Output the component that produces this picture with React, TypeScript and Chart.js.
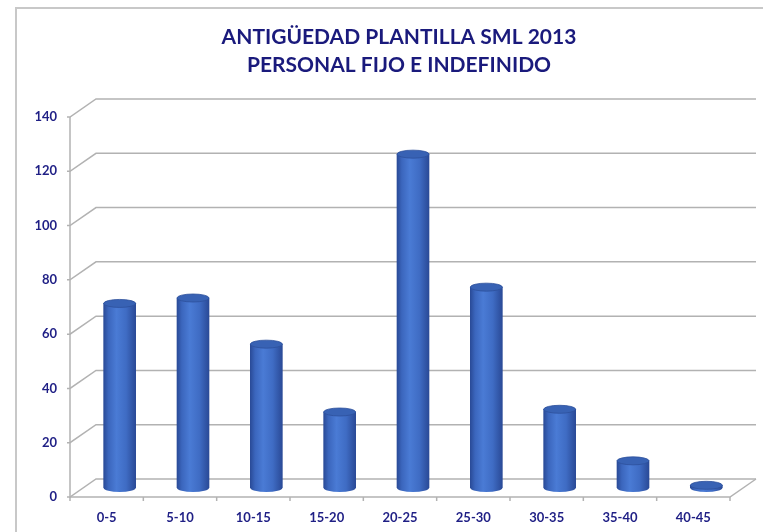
import { useEffect, useRef } from "react";
import { Chart, registerables } from "chart.js";

Chart.register(...registerables);

const categories = ["0-5", "5-10", "10-15", "15-20", "20-25", "25-30", "30-35", "35-40", "40-45"];
const values = [68, 70, 53, 28, 123, 74, 29, 10, 1];
const yTicks = [0, 20, 40, 60, 80, 100, 120, 140];
const titleLines = ["ANTIGÜEDAD PLANTILLA SML 2013", "PERSONAL FIJO E INDEFINIDO"];

const DX = 13; // half depth offset (x)
const DY = 9; // half depth offset (y)
const BAR_W = 32;
const RY = 4;
const NAVY = "#1f1f85";
const TITLE_NAVY = "#1a1a7c";
const GRID = "#b2b2b2";
const FONT = "Lato";

function bodyGradient(ctx: CanvasRenderingContext2D, cx: number, w: number) {
  const g = ctx.createLinearGradient(cx - w / 2, 0, cx + w / 2, 0);
  g.addColorStop(0, "#2a4b98");
  g.addColorStop(0.15, "#3b66bd");
  g.addColorStop(0.4, "#4a7bd5");
  g.addColorStop(0.7, "#3f6cc4");
  g.addColorStop(1, "#2a4a97");
  return g;
}

const frame3d = {
  id: "frame3d",
  beforeDraw(chart: any) {
    const ctx = chart.ctx;
    ctx.save();
    ctx.fillStyle = "#ffffff";
    ctx.fillRect(0, 0, chart.width, chart.height);
    ctx.strokeStyle = "#c8c8c8";
    ctx.lineWidth = 2;
    ctx.beginPath();
    ctx.moveTo(16, chart.height);
    ctx.lineTo(16, 8);
    ctx.lineTo(chart.width, 8);
    ctx.stroke();
    // title
    ctx.fillStyle = TITLE_NAVY;
    ctx.font = `bold 21px ${FONT}`;
    ctx.textAlign = "center";
    ctx.textBaseline = "middle";
    ctx.fillText(titleLines[0], 399, 37);
    ctx.fillText(titleLines[1], 399, 65);
    ctx.restore();
  },
  beforeDatasetsDraw(chart: any) {
    const { ctx, chartArea: a } = chart;
    const y = chart.scales.y;
    const fl = a.left - DX;
    const fr = a.right - DX;
    const bl = a.left + DX;
    const br = a.right + DX;
    ctx.save();
    ctx.strokeStyle = GRID;
    ctx.lineWidth = 1.5;
    for (const v of yTicks) {
      const ym = y.getPixelForValue(v);
      ctx.beginPath();
      ctx.moveTo(fl - 3, ym + DY);
      ctx.lineTo(fl, ym + DY);
      ctx.lineTo(bl, ym - DY);
      ctx.lineTo(br, ym - DY);
      ctx.stroke();
    }
    const y0 = y.getPixelForValue(0);
    const yTop = y.getPixelForValue(yTicks[yTicks.length - 1]);
    ctx.beginPath();
    ctx.moveTo(fl, yTop + DY);
    ctx.lineTo(fl, y0 + DY);
    ctx.lineTo(fr, y0 + DY);
    ctx.lineTo(br, y0 - DY);
    ctx.stroke();
    const n = categories.length;
    for (let i = 0; i <= n; i++) {
      const xm = a.left + ((a.right - a.left) * i) / n - DX;
      ctx.beginPath();
      ctx.moveTo(xm, y0 + DY);
      ctx.lineTo(xm, y0 + DY + 4);
      ctx.stroke();
    }
    ctx.restore();
  },
  afterDatasetsDraw(chart: any) {
    const ctx = chart.ctx;
    const meta = chart.getDatasetMeta(0);
    ctx.save();
    for (const el of meta.data) {
      const { x, y, base, width } = el.getProps(["x", "y", "base", "width"], true);
      const rx = width / 2;
      ctx.beginPath();
      ctx.ellipse(x, base, rx, RY, 0, 0, Math.PI);
      ctx.closePath();
      ctx.fillStyle = bodyGradient(ctx, x, width);
      ctx.fill();
      ctx.beginPath();
      ctx.ellipse(x, y, rx, RY, 0, 0, Math.PI * 2);
      ctx.fillStyle = "#3862b4";
      ctx.fill();
      ctx.strokeStyle = "#2d519c";
      ctx.lineWidth = 0.8;
      ctx.stroke();
    }
    ctx.restore();
  },
};

export default function App() {
  const ref = useRef<HTMLCanvasElement | null>(null);
  useEffect(() => {
    if (!ref.current) return;
    const chart = new Chart(ref.current, {
      type: "bar",
      data: {
        labels: categories,
        datasets: [
          {
            data: values,
            barThickness: BAR_W,
            borderWidth: 0,
            backgroundColor: (c: any) => {
              const ch = c.chart;
              if (!ch.chartArea || c.dataIndex === undefined) return "#4472c4";
              const cx = ch.scales.x.getPixelForValue(c.dataIndex);
              return bodyGradient(ch.ctx, cx, BAR_W);
            },
          },
        ],
      },
      options: {
        responsive: false,
        animation: false,
        devicePixelRatio: 1,
        layout: { padding: { left: 0, right: 20, top: 108, bottom: 0 } },
        plugins: {
          legend: { display: false },
          tooltip: { enabled: false },
          title: { display: false },
        },
        scales: {
          x: {
            grid: { display: false, drawTicks: false },
            border: { display: false },
            ticks: {
              color: NAVY,
              font: { family: FONT, size: 13, weight: "bold" },
              labelOffset: -DX,
              padding: 22,
              maxRotation: 0,
              autoSkip: false,
            },
            afterFit: (s: any) => {
              s.height = 44;
            },
          },
          y: {
            min: 0,
            max: 140,
            grid: { display: false, drawTicks: false },
            border: { display: false },
            ticks: {
              stepSize: 20,
              color: NAVY,
              font: { family: FONT, size: 13, weight: "bold" },
              labelOffset: DY,
              padding: 26,
            },
            afterFit: (s: any) => {
              s.width = 83;
            },
          },
        },
      },
      plugins: [frame3d],
    } as any);
    return () => chart.destroy();
  }, []);
  return (
    <div style={{ position: "absolute", left: 0, top: 0, width: 763, height: 532 }}>
      <canvas ref={ref} width={763} height={532} style={{ display: "block" }} />
    </div>
  );
}
